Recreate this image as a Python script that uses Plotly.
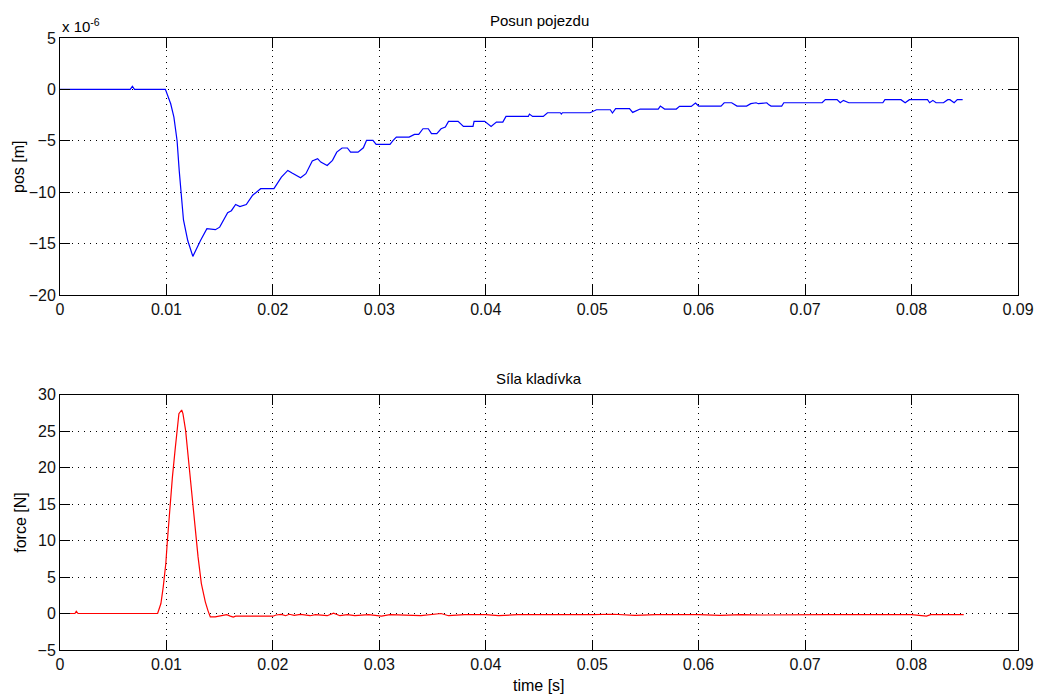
import plotly.graph_objects as go

# ---- data (time in s, position in 1e-6 m, force in N) ----
pos_points = [
    (0.0, 0.0), (0.0066, 0.0), (0.0068, 0.3), (0.0070, 0.0), (0.0099, 0.0),
    (0.0104, -1.4), (0.0107, -2.7), (0.0110, -5.0), (0.0112, -7.9), (0.0114, -10.1),
    (0.0116, -12.7), (0.0120, -14.7), (0.01248, -16.25), (0.0132, -14.7), (0.0138, -13.55),
    (0.0146, -13.65), (0.0150, -13.4), (0.01575, -12.0), (0.0161, -11.8), (0.0165, -11.2),
    (0.0169, -11.4), (0.0175, -11.2), (0.0181, -10.3), (0.01885, -9.66), (0.0201, -9.66),
    (0.0208, -8.53), (0.0214, -7.88), (0.0218, -8.14), (0.0226, -8.6), (0.0231, -8.2),
    (0.0237, -6.97), (0.0242, -6.74), (0.0245, -7.07), (0.0251, -7.4), (0.0256, -6.9),
    (0.0260, -6.1), (0.0265, -5.7), (0.0270, -5.7), (0.0273, -6.1), (0.0280, -6.1),
    (0.0285, -5.68), (0.0288, -4.96), (0.0294, -4.96), (0.0297, -5.35), (0.0310, -5.35),
    (0.0313, -4.96), (0.0316, -4.64), (0.0328, -4.64), (0.0333, -4.38), (0.0337, -4.38),
    (0.0341, -3.83), (0.0346, -3.83), (0.0349, -4.31), (0.0354, -4.31), (0.0358, -3.83),
    (0.0362, -3.67), (0.0365, -3.11), (0.0374, -3.11), (0.0379, -3.6), (0.0388, -3.6),
    (0.0389, -3.11), (0.0399, -3.11), (0.0405, -3.6), (0.0410, -3.18), (0.0416, -3.18),
    (0.0419, -2.63), (0.0440, -2.63), (0.0441, -2.4), (0.0444, -2.63), (0.0454, -2.63),
    (0.0458, -2.27), (0.0470, -2.27), (0.0471, -2.4), (0.0472, -2.27), (0.0498, -2.27),
    (0.0504, -1.98), (0.0517, -1.98), (0.0519, -2.3), (0.0522, -1.88), (0.0535, -1.88),
    (0.0538, -2.24), (0.0545, -1.91), (0.0562, -1.91), (0.0564, -1.62), (0.0568, -1.91),
    (0.0579, -1.91), (0.0582, -1.65), (0.0593, -1.65), (0.0597, -1.33), (0.0600, -1.62),
    (0.0621, -1.62), (0.0624, -1.3), (0.0631, -1.3), (0.0636, -1.62), (0.0645, -1.62),
    (0.0649, -1.39), (0.0654, -1.3), (0.0656, -1.39), (0.0664, -1.3), (0.0666, -1.5),
    (0.0668, -1.62), (0.0678, -1.62), (0.0680, -1.3), (0.0716, -1.3), (0.0719, -1.0),
    (0.0730, -1.0), (0.0733, -1.3), (0.0736, -1.07), (0.0741, -1.3), (0.0773, -1.3),
    (0.0775, -1.0), (0.0790, -1.0), (0.0794, -1.3), (0.0798, -1.0), (0.0815, -1.0),
    (0.0817, -1.3), (0.0820, -1.07), (0.0823, -1.3), (0.0830, -1.3), (0.0834, -1.0),
    (0.0836, -1.0), (0.0840, -1.3), (0.0843, -1.0), (0.0848, -1.0),
]

force_points = [
    (0.0, 0.0), (0.0014, 0.0), (0.00153, 0.3), (0.0017, 0.0), (0.00917, 0.0),
    (0.00948, 1.37), (0.0097, 3.65), (0.00994, 6.85), (0.01009, 10.0), (0.01031, 14.6),
    (0.01056, 18.7), (0.01081, 22.4), (0.01102, 25.1), (0.01117, 27.4), (0.01143, 27.9),
    (0.01155, 27.4), (0.0118, 25.1), (0.01204, 21.5), (0.01236, 16.9), (0.01266, 12.3),
    (0.01297, 7.76), (0.01328, 4.1), (0.01365, 1.6), (0.0139, 0.4), (0.01412, -0.46),
    (0.01458, -0.46), (0.0151, -0.35), (0.01566, -0.15), (0.0160, -0.35), (0.01628, -0.5),
    (0.0165, -0.37), (0.0200, -0.37), (0.0203, -0.2), (0.0208, -0.12), (0.0212, -0.3),
    (0.02154, -0.1), (0.0220, -0.25), (0.0226, -0.12), (0.0235, -0.3), (0.0240, -0.15),
    (0.0251, -0.3), (0.0257, 0.05), (0.0263, -0.3), (0.0270, -0.15), (0.0277, -0.3),
    (0.0290, -0.15), (0.0302, -0.35), (0.0310, -0.15), (0.0339, -0.3), (0.0350, -0.15),
    (0.0358, 0.0), (0.0365, -0.3), (0.0380, -0.15), (0.0400, -0.15), (0.0412, -0.3),
    (0.0430, -0.15), (0.0450, -0.15), (0.0470, -0.25), (0.0500, -0.15), (0.0520, -0.1),
    (0.0540, -0.25), (0.0560, -0.15), (0.0580, -0.1), (0.0600, -0.15), (0.0620, -0.25),
    (0.0640, -0.15), (0.0660, -0.2), (0.0680, -0.15), (0.0700, -0.1), (0.0720, -0.15),
    (0.0750, -0.15), (0.0780, -0.15), (0.0800, -0.15), (0.0814, -0.35), (0.0818, -0.15),
    (0.0849, -0.15),
]

x_ticks = [0, 0.01, 0.02, 0.03, 0.04, 0.05, 0.06, 0.07, 0.08, 0.09]
x_tick_labels = ["0", "0.01", "0.02", "0.03", "0.04", "0.05", "0.06", "0.07", "0.08", "0.09"]
pos_ticks = [-20, -15, -10, -5, 0, 5]
force_ticks = [-5, 0, 5, 10, 15, 20, 25, 30]

title_top = "Posun pojezdu"
title_bottom = "Síla kladívka"
ylabel_top = "pos [m]"
ylabel_bottom = "force [N]"
xlabel = "time [s]"

pos_t = [p[0] for p in pos_points]
pos_v = [p[1] for p in pos_points]
force_t = [p[0] for p in force_points]
force_v = [p[1] for p in force_points]

FONT = "Liberation Sans, Arial, sans-serif"
FS_TICK = 16
FS_LABEL = 16
FS_TITLE = 15

fig = go.Figure()
fig.add_trace(go.Scatter(x=pos_t, y=pos_v, mode="lines",
                         line=dict(color="#0000ff", width=1.2),
                         xaxis="x", yaxis="y", showlegend=False))
fig.add_trace(go.Scatter(x=force_t, y=force_v, mode="lines",
                         line=dict(color="#ff0000", width=1.2),
                         xaxis="x2", yaxis="y2", showlegend=False))

axis_common = dict(
    showline=True, linecolor="black", linewidth=1, mirror="ticks",
    ticks="inside", ticklen=10, tickcolor="black", tickwidth=1,
    showgrid=True, gridcolor="black", gridwidth=1, griddash="1px,5px",
    zeroline=False, tickfont=dict(family=FONT, size=FS_TICK, color="#111"),
)

fig.update_layout(
    width=1046, height=697,
    margin=dict(l=60, r=18, t=38, b=47),
    paper_bgcolor="white", plot_bgcolor="white",
    font=dict(family=FONT, size=FS_TICK, color="black"),
    xaxis=dict(domain=[0, 1], range=[0, 0.09], tickvals=x_ticks, ticktext=x_tick_labels,
               anchor="y", **axis_common),
    yaxis=dict(domain=[0.5801, 1.0], range=[-20, 5], tickvals=pos_ticks,
               anchor="x", **axis_common),
    xaxis2=dict(domain=[0, 1], range=[0, 0.09], tickvals=x_ticks, ticktext=x_tick_labels,
                anchor="y2", **axis_common),
    yaxis2=dict(domain=[0, 0.4172], range=[-5, 30], tickvals=force_ticks,
                anchor="x2", **axis_common),
)

title_font = dict(family=FONT, size=FS_TITLE, color="black")
label_font = dict(family=FONT, size=FS_LABEL, color="black")
fig.add_annotation(text=title_top, xref="paper", yref="paper", x=0.5, y=1.0294,
                   xanchor="center", yanchor="middle", showarrow=False, font=title_font)
fig.add_annotation(text=title_bottom, xref="paper", yref="paper", x=0.5, y=0.4444,
                   xanchor="center", yanchor="middle", showarrow=False, font=title_font)
fig.add_annotation(text=xlabel, xref="paper", yref="paper", x=0.5, y=-0.0588,
                   xanchor="center", yanchor="middle", showarrow=False, font=label_font)
fig.add_annotation(text=ylabel_top, xref="paper", yref="paper", x=-0.0434, y=0.79,
                   xanchor="center", yanchor="middle", textangle=-90, showarrow=False, font=label_font)
fig.add_annotation(text=ylabel_bottom, xref="paper", yref="paper", x=-0.0413, y=0.2086,
                   xanchor="center", yanchor="middle", textangle=-90, showarrow=False, font=label_font)
fig.add_annotation(text="x 10<sup>-6</sup>", xref="paper", yref="paper", x=0.0, y=1.0212,
                   xanchor="left", yanchor="middle", showarrow=False, font=title_font)

fig.write_html("out.html")
